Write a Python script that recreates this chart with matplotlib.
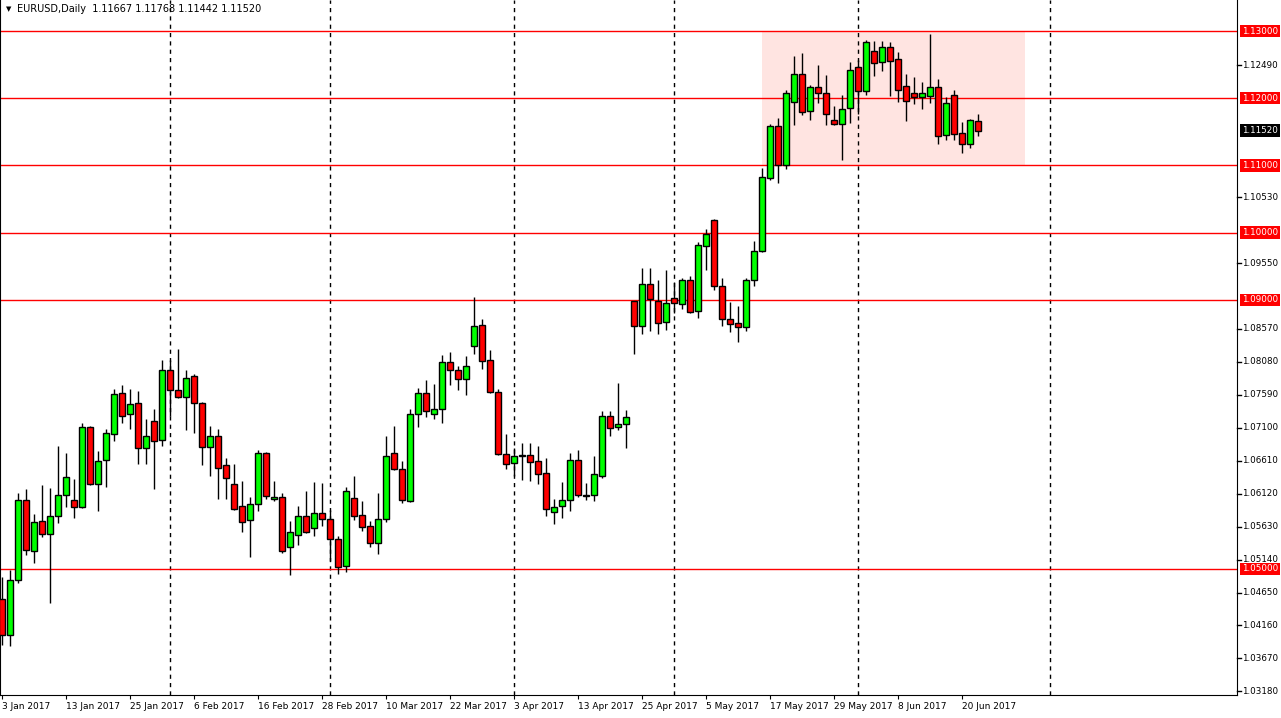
import numpy as np
import matplotlib
matplotlib.use("Agg")
import matplotlib.pyplot as plt
from matplotlib.patches import Rectangle

# daily EURUSD candles, 3 Jan 2017 .. 22 Jun 2017
opens = [1.0455,1.0402,1.0484,1.0603,1.0527,1.0571,1.0552,1.0579,1.0610,1.0603,
         1.0592,1.0711,1.0627,1.0662,1.0700,1.0762,1.0730,1.0747,1.0680,1.0720,
         1.0692,1.0796,1.0766,1.0756,1.0787,1.0747,1.0682,1.0697,1.0655,1.0626,
         1.0594,1.0573,1.0597,1.0672,1.0604,1.0607,1.0533,1.0551,1.0579,1.0561,
         1.0583,1.0574,1.0545,1.0504,1.0606,1.0580,1.0564,1.0539,1.0574,1.0672,
         1.0649,1.0601,1.0730,1.0762,1.0730,1.0738,1.0808,1.0796,1.0782,1.0832,
         1.0862,1.0810,1.0763,1.0671,1.0657,1.0668,1.0670,1.0661,1.0643,1.0585,
         1.0594,1.0603,1.0662,1.0610,1.0610,1.0638,1.0728,1.0711,1.0716,1.0898,
         1.0862,1.0923,1.0898,1.0867,1.0903,1.0894,1.0930,1.0884,1.0980,1.1019,
         1.0921,1.0872,1.0866,1.0860,1.0930,1.0973,1.1082,1.1158,1.1101,1.1195,
         1.1236,1.1181,1.1217,1.1207,1.1168,1.1162,1.1185,1.1246,1.1211,1.1270,
         1.1254,1.1276,1.1258,1.1218,1.1207,1.1202,1.1204,1.1217,1.1145,1.1205,
         1.1148,1.1132,1.11667]
highs = [1.0488,1.0499,1.0613,1.0619,1.0582,1.0625,1.0620,1.0683,1.0672,1.0634,
         1.0717,1.0712,1.0676,1.0708,1.0767,1.0774,1.0767,1.0764,1.0723,1.0738,
         1.0811,1.0811,1.0827,1.0796,1.0790,1.0748,1.0712,1.0708,1.0665,1.0656,
         1.0631,1.0607,1.0677,1.0674,1.0631,1.0613,1.0571,1.0594,1.0616,1.0629,
         1.0628,1.0588,1.0549,1.0622,1.0638,1.0601,1.0571,1.0613,1.0698,1.0712,
         1.0661,1.0738,1.0769,1.0781,1.0775,1.0818,1.0823,1.0802,1.0817,1.0905,
         1.0872,1.0826,1.0768,1.0701,1.0680,1.0687,1.0687,1.0683,1.0665,1.0604,
         1.0629,1.0672,1.0677,1.0628,1.0668,1.0735,1.0735,1.0777,1.0736,1.0899,
         1.0947,1.0947,1.0929,1.0944,1.0927,1.0932,1.0935,1.0986,1.1006,1.1020,
         1.0932,1.0897,1.0891,1.0932,1.0988,1.1096,1.1162,1.1171,1.1213,1.1263,
         1.1267,1.1220,1.1249,1.1235,1.1188,1.1205,1.1254,1.1257,1.1287,1.1285,
         1.1285,1.1284,1.1269,1.1236,1.1232,1.1224,1.1295,1.1229,1.1202,1.1212,
         1.1165,1.1169,1.11768]
lows = [1.0387,1.0386,1.0479,1.0521,1.0509,1.0548,1.0449,1.0568,1.0592,1.0576,
        1.0590,1.0625,1.0586,1.0622,1.0690,1.0717,1.0708,1.0656,1.0656,1.0619,
        1.0683,1.0727,1.0754,1.0706,1.0702,1.0655,1.0638,1.0604,1.0604,1.0587,
        1.0555,1.0518,1.0586,1.0604,1.0601,1.0524,1.0491,1.0536,1.0554,1.0549,
        1.0564,1.0512,1.0493,1.0496,1.0573,1.0557,1.0533,1.0522,1.0570,1.0647,
        1.0598,1.0599,1.0711,1.0726,1.0723,1.0717,1.0774,1.0766,1.0759,1.0820,
        1.0797,1.0761,1.0670,1.0649,1.0638,1.0632,1.0631,1.0626,1.0579,1.0567,
        1.0576,1.0586,1.0607,1.0603,1.0601,1.0635,1.0698,1.0707,1.0680,1.0820,
        1.0849,1.0854,1.0849,1.0856,1.0880,1.0887,1.0881,1.0873,1.0945,1.0915,
        1.0861,1.0852,1.0838,1.0854,1.0921,1.0971,1.1079,1.1074,1.1095,1.1160,
        1.1175,1.1168,1.1193,1.1160,1.1160,1.1108,1.1163,1.1177,1.1205,1.1233,
        1.1240,1.1203,1.1194,1.1166,1.1191,1.1184,1.1193,1.1132,1.1138,1.1138,
        1.1119,1.1126,1.11442]
closes = [1.0402,1.0484,1.0603,1.0528,1.0570,1.0552,1.0579,1.0610,1.0637,1.0592,
          1.0711,1.0627,1.0661,1.0702,1.0760,1.0728,1.0745,1.0680,1.0697,1.0691,
          1.0796,1.0766,1.0756,1.0784,1.0747,1.0682,1.0697,1.0650,1.0635,1.0589,
          1.0570,1.0597,1.0672,1.0608,1.0607,1.0527,1.0555,1.0579,1.0555,1.0583,
          1.0574,1.0545,1.0503,1.0616,1.0579,1.0562,1.0539,1.0574,1.0668,1.0649,
          1.0603,1.0730,1.0762,1.0735,1.0738,1.0808,1.0796,1.0782,1.0802,1.0861,
          1.0810,1.0763,1.0671,1.0656,1.0668,1.0670,1.0659,1.0641,1.0589,1.0592,
          1.0603,1.0662,1.0610,1.0609,1.0641,1.0728,1.0710,1.0716,1.0726,1.0862,
          1.0923,1.0901,1.0866,1.0895,1.0896,1.0930,1.0882,1.0982,1.0998,1.0921,
          1.0872,1.0865,1.0860,1.0930,1.0973,1.1082,1.1158,1.1101,1.1207,1.1236,
          1.1180,1.1217,1.1208,1.1177,1.1162,1.1184,1.1242,1.1211,1.1284,1.1252,
          1.1276,1.1255,1.1212,1.1196,1.1202,1.1208,1.1217,1.1144,1.1193,1.1147,
          1.1132,1.1168,1.11520]

date_ticks = [0, 8, 16, 24, 32, 40, 48, 56, 64, 72, 80, 88, 96, 104, 112, 120]
date_labels = ["3 Jan 2017", "13 Jan 2017", "25 Jan 2017", "6 Feb 2017", "16 Feb 2017",
               "28 Feb 2017", "10 Mar 2017", "22 Mar 2017", "3 Apr 2017", "13 Apr 2017",
               "25 Apr 2017", "5 May 2017", "17 May 2017", "29 May 2017", "8 Jun 2017",
               "20 Jun 2017"]
month_starts = [21, 41, 64, 84, 107, 131]
levels = [1.13, 1.12, 1.11, 1.10, 1.09, 1.05]
price_ticks = [1.12490, 1.10530, 1.09550, 1.08570, 1.08080, 1.07590, 1.07100,
               1.06610, 1.06120, 1.05630, 1.05140, 1.04650, 1.04160, 1.03670, 1.03180]
last_price = 1.11520
box = (95, 127.9, 1.11, 1.13)  # start idx, end idx, low, high

W, H = 1281, 718
fig = plt.figure(figsize=(W / 100, H / 100), dpi=100)
ax = fig.add_axes([0, 1 - 695 / H, 1237 / W, 695 / H])

x = np.arange(len(opens))
opens = np.array(opens); closes = np.array(closes)
ax.set_xlim(-0.25, (1237 - 2) / 8)
ax.set_ylim(1.03126, 1.13461)

ax.add_patch(Rectangle((box[0], box[2]), box[1] - box[0], box[3] - box[2],
                       facecolor="#ffe4e1", edgecolor="none", zorder=0))
for m in month_starts:
    ax.axvline(m, color="black", lw=1, ls=(0, (3, 3)), zorder=1)
for lv in levels:
    ax.axhline(lv, color="#ff0000", lw=1, zorder=1)

ax.vlines(x, lows, highs, color="black", lw=1, zorder=2)
up = closes >= opens
colors = np.where(up, "#00ff00", "#ff0000")
ax.bar(x, np.abs(closes - opens) + 0.00002, bottom=np.minimum(opens, closes), width=0.72,
       color=colors, edgecolor="black", linewidth=1, zorder=3)

ax.set_xticks(date_ticks)
ax.set_xticklabels(date_labels, ha="left", fontsize=6.5)
ax.tick_params(axis="x", length=3, pad=2, direction="out")
ax.set_yticks([])
ax.spines["top"].set_visible(False)

tr = ax.get_yaxis_transform()
lab_x = 1.004
fs = 6.3
for p in price_ticks:
    ax.text(lab_x, p, f"{p:.5f}", transform=tr, va="center", ha="left",
            fontsize=fs, color="black")
    ax.plot([1.0, 1.003], [p, p], transform=tr, color="black", lw=1, clip_on=False)
for lv in levels:
    ax.text(lab_x, lv, f"{lv:.5f}", transform=tr, va="center", ha="left",
            fontsize=fs, color="white",
            bbox=dict(boxstyle="square,pad=0.2", fc="#ff0000", ec="none"))
ax.text(lab_x, last_price, f"{last_price:.5f}", transform=tr, va="center", ha="left",
        fontsize=fs, color="white",
        bbox=dict(boxstyle="square,pad=0.2", fc="black", ec="none"))

fig.text(6 / W, 1 - 9 / H, "\u25bc", fontsize=5, va="center", ha="left")
fig.text(17 / W, 1 - 9 / H, "EURUSD,Daily  1.11667 1.11768 1.11442 1.11520",
         fontsize=7, va="center", ha="left")

fig.savefig("out.png", dpi=100)
